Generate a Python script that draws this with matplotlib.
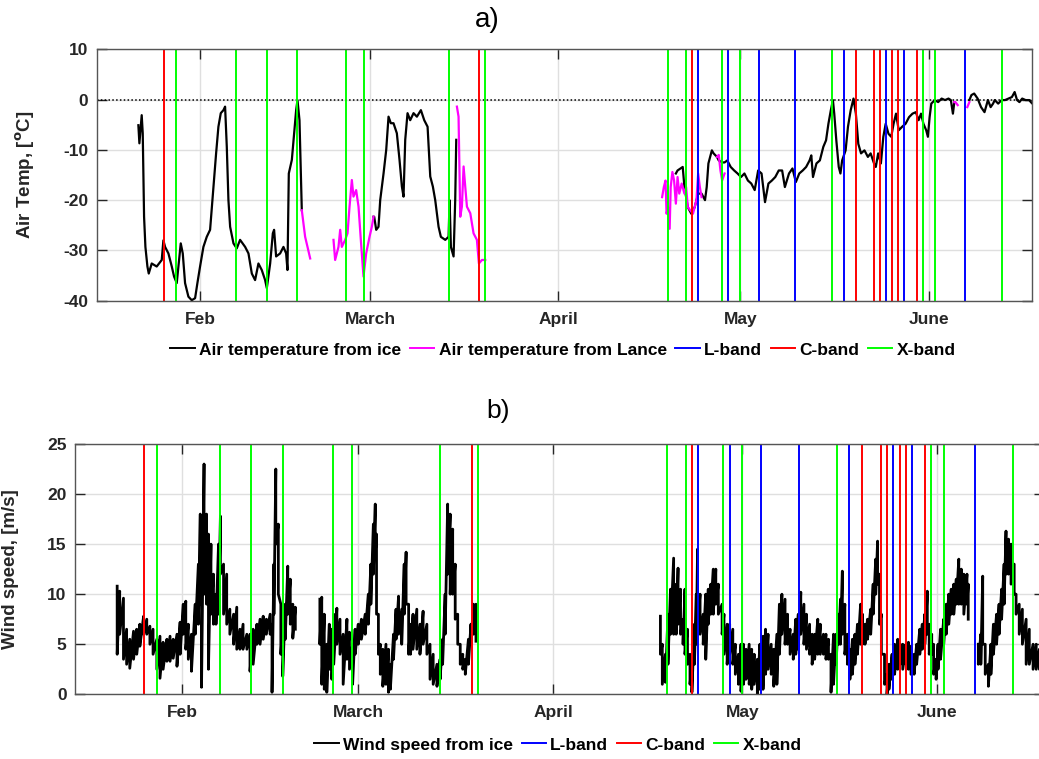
import numpy as np
import matplotlib
matplotlib.use('Agg')
import matplotlib.pyplot as plt

plt.rcParams['font.family'] = ['Liberation Sans', 'DejaVu Sans']
plt.rcParams['axes.unicode_minus'] = False

nan = np.nan

# ---------------- data (x = day of year 2015) ----------------
month_ticks = [32, 60, 91, 121, 152]
month_labels = ['Feb', 'March', 'April', 'May', 'June']

L_band = [114, 119, 124, 130, 138, 145, 148, 158]
C_band = [26, 78, 113, 140, 143, 144, 146, 147, 150]
X_band = [28, 38, 43, 48, 56, 59, 73, 79, 109, 112, 118, 121, 136, 151, 153, 164]

# Air temperature from ice (black); NaN separates gaps
ice_doy = [21.86, 22.03, 22.41, 22.58, 22.80, 23.02, 23.35, 23.57, 24.06, 24.88, 25.71, 25.98,
           26.26, 26.81, 27.36, 27.74, 28.18, 28.45, 28.84, 29.17, 29.55, 30.10, 30.65, 31.20,
           31.58, 32.02, 32.57, 33.12, 33.67, 34.22, 34.66, 35.04, 35.43, 35.87, 36.14, 36.42,
           36.69, 36.97, 37.52, 38.06, 38.61, 39.44, 39.99, 40.54, 41.08, 41.63, 42.18, 42.73,
           43.01, 43.56, 44.00, 44.21, 44.54, 45.20, 45.75, 46.19, 46.41, 46.63, 47.13, 47.51,
           47.84, 48.06, 48.39, 48.77,
           nan,
           60.58, 60.69, 61.02, 61.40, 61.68, 62.23, 62.67, 63.05, 63.43, 63.87, 64.42, 64.86,
           65.25, 65.52, 65.80, 66.18, 66.62, 67.17, 67.72, 68.38, 68.93, 69.48, 69.92, 70.35,
           70.74, 71.29, 71.67, 72.39, 72.94, 73.10, 73.32, 73.76, 74.03, 74.20,
           nan,
           110.36, 110.64, 111.49, 111.77, 112.33, 112.90, 113.46, 114.03, 114.59, 115.16, 115.44,
           115.72, 116.29, 116.57, 117.13, 117.42, 117.98, 118.38, 118.83, 119.39, 119.96, 120.52,
           121.09, 121.65, 122.22, 122.78, 123.34, 123.91, 124.47, 125.04, 125.60, 126.17, 126.73,
           127.30, 127.86, 128.31, 128.99, 129.56, 130.12, 130.68, 131.25, 131.81, 132.38, 132.66,
           132.94, 133.51, 134.07, 134.64, 135.09, 135.48, 135.88, 136.22, 136.44, 136.78, 137.18,
           137.46, 137.74, 138.31, 138.70, 139.15, 139.61, 140.00, 140.40, 140.85, 141.41, 141.98,
           142.43, 142.99, 143.28, 143.67, 144.12, 144.52, 144.91, 145.37, 145.82, 146.21, 146.61,
           147.06, 147.62, 148.19, 148.75, 149.32, 149.88, 150.33, 150.73, 151.12, 151.58, 151.86,
           152.14, 152.42, 152.99, 153.55, 154.12, 154.68, 155.25, 155.64, 155.98, 156.21,
           nan,
           158.69, 159.03, 159.48, 160.05, 160.61, 161.18, 161.74, 162.19, 162.59, 162.87, 163.43,
           164.00, 164.56, 165.13, 165.69, 166.14, 166.54, 166.93, 167.39, 167.95, 168.52, 168.97]
ice_temp = [-5.1, -8.7, -3.1, -6.7, -23.3, -29.3, -33.2, -34.6, -32.6, -33.2, -31.9, -28.0,
            -29.3, -30.6, -33.2, -35.2, -36.5, -33.2, -28.6, -30.6, -36.5, -39.2, -39.9, -39.5,
            -36.5, -33.2, -29.3, -27.3, -25.9, -17.3, -10.7, -5.4, -2.7, -2.1, -1.4, -9.4,
            -20.0, -25.3, -28.6, -29.6, -27.9, -29.3, -30.6, -34.6, -35.9, -32.6, -33.9, -35.9,
            -37.5, -32.6, -26.6, -25.9, -31.2, -30.6, -29.3, -30.6, -33.9, -14.7, -12.0, -6.7,
            -2.1, -0.1, -4.1, -22.0,
            nan,
            -23.3, -23.3, -25.9, -25.3, -20.0, -14.7, -10.0, -3.4, -4.7, -4.7, -6.7, -12.0,
            -17.3, -19.3, -8.0, -2.7, -4.1, -2.7, -3.4, -2.1, -4.1, -5.4, -15.3, -17.3,
            -20.0, -25.3, -27.3, -27.9, -27.3, -20.0, -29.3, -31.2, -20.0, -8.0,
            nan,
            -14.7, -14.1, -13.4, -17.4, -21.4, -22.7, -21.4, -18.7, -18.7, -20.0, -17.4,
            -12.7, -10.1, -10.7, -11.4, -12.1, -12.5, -12.5, -12.1, -13.4, -14.1, -14.7,
            -15.4, -14.7, -16.1, -16.7, -18.0, -14.1, -14.7, -20.4, -16.7, -16.1, -15.4,
            -14.1, -14.1, -17.4, -14.7, -13.7, -16.4, -14.7, -14.1, -13.4, -12.1, -11.1,
            -15.4, -12.7, -12.1, -9.4, -8.1, -4.8, -2.1, -0.1, -2.8, -8.1, -13.4,
            -14.7, -12.1, -10.1, -5.4, -2.1, 0.2, -2.8, -8.8, -10.7, -10.1, -11.4,
            -10.7, -12.7, -13.4, -10.7, -12.7, -7.4, -4.8, -6.8, -7.4, -4.8, -2.8,
            -6.1, -5.4, -4.8, -3.5, -2.8, -2.5, -4.1, -2.8, -4.8, -6.1, -7.4,
            -3.5, -0.8, -0.1, -0.5, 0.2, -0.1, 0.2, -0.1, -2.8, -0.5,
            nan,
            -0.1, 0.9, 1.2, 0.2, -1.5, -2.5, -0.1, -1.5, -0.8, -0.1, -0.8,
            -0.1, -0.1, 0.2, 0.5, 1.5, -0.1, -0.5, 0.2, -0.1, -0.1, -0.7]

# Air temperature from Lance (magenta)
lance_doy = [48.77, 49.32, 49.71, 50.15,
             nan,
             53.99, 54.26, 54.81, 55.09, 55.36, 55.91, 56.30, 56.63, 57.01, 57.28, 57.72, 58.11,
             58.49, 58.93, 59.37, 59.92, 60.30, 60.58,
             nan,
             74.31, 74.58, 74.86, 75.13, 75.41, 75.68, 75.96, 76.51, 77.05, 77.60, 77.93, 78.43, 78.98,
             nan,
             108.10, 108.38, 108.66, 108.83, 109.06, 109.34, 109.51, 109.79, 110.07, 110.36, 110.64,
             110.92, 111.32, 111.77, 112.05, 112.33, 112.73, 113.18, 113.75, 114.03, 114.31, 114.59,
             nan,
             117.13, 117.42, 117.70, 117.98, 118.38,
             nan,
             156.21, 156.38, 156.77,
             nan,
             158.35, 158.69]
lance_temp = [-22.0, -27.3, -29.3, -31.6,
              nan,
              -27.9, -31.9, -29.3, -25.9, -29.3, -27.9, -26.6, -21.3, -16.0, -19.3, -18.0, -21.3,
              -27.9, -35.2, -30.6, -27.3, -25.3, -23.3,
              nan,
              -1.4, -3.4, -23.3, -21.3, -13.3, -17.3, -21.3, -22.6, -26.6, -27.9, -32.6, -31.9, -31.9,
              nan,
              -19.4, -17.4, -16.1, -22.7, -21.4, -25.7, -17.4, -14.4, -16.1, -20.7, -15.4,
              -18.7, -16.7, -18.7, -17.4, -21.4, -22.0, -22.7, -20.0, -14.7, -17.4, -19.4,
              nan,
              -11.4, -11.0, -14.1, -16.1, -14.7,
              nan,
              -0.5, -0.5, -1.1,
              nan,
              -1.5, -0.5]

# Wind speed from ice: read peaks (hi) and troughs (lo) of the jagged trace
wind_doy = [21.7, 22.1, 22.7, 23.2, 23.7, 24.3, 24.8, 25.3, 25.9, 26.4, 26.9, 27.4, 28.0, 28.5,
            29.0, 29.6, 30.1, 30.6, 31.2, 31.7, 32.2, 32.6, 33.0, 33.5, 34.1, 34.6, 34.9, 35.1,
            35.5, 35.9, 36.2, 36.6, 37.0, 37.4, 37.8, 38.1, 38.6, 39.1, 39.6, 40.2, 40.7, 41.2,
            41.7, 42.3, 42.8, 43.3, 43.9, 44.4, 44.9, 45.4, 46.0, 46.3, 46.6, 46.9, 47.3, 47.7,
            48.0, 48.4, 48.8, 49.2, 49.6, 50.0,
            nan,
            53.9, 54.2, 54.6, 55.0, 55.4, 55.8, 56.1, 56.6, 57.1, 57.6, 58.2, 58.6, 59.1, 59.5,
            60.0, 60.5, 61.1, 61.6, 62.0, 62.4, 62.7, 62.9, 63.2, 63.5, 63.9, 64.4, 64.8, 65.1,
            65.6, 66.0, 66.4, 66.9, 67.3, 67.6, 68.0, 68.3, 68.7, 69.3, 69.8, 70.3, 70.9, 71.4,
            71.9, 72.5, 73.0, 73.4, 73.8, 74.2, 74.6, 75.0, 75.4, 75.8, 76.2, 76.6, 77.0, 77.5,
            77.9, 78.3, 78.7,
            nan,
            108.0, 108.3, 108.8, 109.2, 109.6, 110.1, 110.5, 110.8, 111.2, 111.6, 111.9, 112.3,
            112.7, 113.0, 113.4, 113.7, 113.9, 114.3, 114.8, 115.2, 115.6, 116.0, 116.4, 116.8,
            117.2, 117.8, 118.1, 118.6, 119.0, 119.5, 119.9, 120.4, 120.8, 121.2, 121.6, 122.1,
            122.5, 122.9, 123.4, 123.8, 124.3, 124.7, 125.1, 125.6, 126.0, 126.5, 126.9, 127.3,
            127.8, 128.2, 128.6, 129.1, 129.5, 129.9, 130.3, 130.8, 131.2, 131.7, 132.1, 132.5,
            133.0, 133.4, 133.9, 134.3, 134.7, 135.1, 135.5, 135.9, 136.3, 136.6, 136.9, 137.3,
            137.7, 138.1, 138.5, 138.9, 139.3, 139.8, 140.1, 140.5, 140.9, 141.4, 141.8, 142.2,
            142.5, 142.8, 143.1, 143.6, 144.0, 144.3, 144.8, 145.2, 145.7, 146.1, 146.5, 147.0,
            147.4, 147.8, 148.3, 148.7, 149.2, 149.6, 150.0, 150.4, 150.7, 151.1, 151.4, 151.8,
            152.1, 152.5, 153.0, 153.4, 153.8, 154.2, 154.6, 155.0, 155.4, 155.8, 156.2, 156.7,
            156.9,
            nan,
            158.5, 158.9, 159.2, 159.6, 160.1, 160.5, 160.9, 161.4, 161.8, 162.2, 162.6, 162.9,
            163.3, 163.7, 164.2, 164.5, 165.0, 165.5, 166.1, 166.6, 167.2, 167.7, 168.2, 168.8]
wind_hi = [10.8, 10.3, 9.6, 6.5, 5.5, 6.3, 6.5, 7.0, 7.8, 7.5, 6.8, 6.5, 5.5, 5.8,
           5.2, 5.5, 5.8, 5.5, 6.0, 7.2, 9.0, 9.3, 7.0, 6.0, 9.0, 13.0, 18.0, 15.0,
           23.0, 18.0, 16.0, 15.0, 12.0, 10.0, 15.0, 17.8, 13.0, 12.0, 8.5, 8.0, 8.7, 6.5,
           7.0, 6.0, 6.0, 6.5, 7.0, 7.5, 7.8, 7.5, 8.0, 7.0, 13.0, 22.5, 17.0, 9.0,
           7.0, 9.0, 12.8, 11.5, 9.0, 8.7,
           nan,
           9.5, 9.7, 8.0, 5.0, 7.0, 6.5, 8.0, 8.6, 7.5, 6.0, 7.5, 6.2, 5.0, 6.5,
           7.0, 7.5, 8.0, 10.0, 13.0, 17.0, 19.0, 16.0, 8.0, 5.0, 4.5, 5.0, 4.5, 3.0,
           6.0, 8.5, 9.8, 8.5, 13.0, 14.2, 9.0, 7.0, 8.0, 8.5, 7.0, 8.3, 7.0, 5.0,
           4.0, 3.0, 3.5, 5.5, 10.0, 19.0, 18.0, 16.5, 13.0, 8.0, 5.0, 4.0, 3.5, 5.5,
           7.0, 9.0, 9.0,
           nan,
           7.8, 5.0, 4.0, 8.0, 10.5, 13.6, 11.0, 12.6, 10.5, 7.5, 10.5, 6.5,
           4.0, 3.0, 7.0, 10.0, 14.5, 10.0, 8.0, 10.0, 10.5, 11.0, 12.5, 12.5,
           11.0, 9.0, 8.0, 7.0, 7.0, 6.5, 5.0, 4.0, 5.0, 5.0, 4.5, 5.0,
           4.5, 4.0, 3.5, 5.0, 5.8, 6.5, 6.0, 5.0, 4.5, 6.0, 9.0, 10.0,
           9.5, 8.0, 6.5, 6.0, 7.5, 8.0, 10.2, 9.0, 8.0, 7.0, 6.0, 6.0,
           7.5, 7.0, 6.0, 6.0, 5.5, 4.0, 6.0, 6.0, 8.0, 9.5, 12.3, 9.0,
           6.0, 4.5, 5.5, 6.0, 7.0, 9.0, 8.0, 7.0, 7.5, 8.5, 11.0, 13.5,
           15.3, 12.0, 8.0, 4.0, 2.0, 3.0, 4.0, 5.0, 5.5, 5.0, 5.0, 5.0,
           5.2, 4.8, 4.0, 5.0, 6.5, 7.0, 8.0, 10.3, 7.0, 6.0, 5.0, 3.5,
           5.0, 6.5, 7.5, 9.0, 10.0, 10.5, 11.0, 11.5, 13.5, 12.5, 12.0, 12.0,
           11.0,
           nan,
           5.0, 6.0, 11.8, 5.0, 3.0, 5.0, 7.0, 8.0, 9.0, 10.5, 13.0, 16.3,
           15.5, 15.0, 13.0, 10.0, 9.0, 8.5, 7.5, 6.5, 5.0, 5.0, 4.5, 4.0]
wind_lo = [4.0, 6.0, 3.5, 3.0, 2.6, 3.5, 4.0, 4.8, 6.0, 6.0, 5.0, 4.0, 2.5, 1.6,
           2.5, 3.3, 3.3, 3.6, 2.8, 4.0, 6.0, 4.5, 3.5, 2.3, 6.0, 7.0, 9.0, 0.7,
           10.0, 9.0, 2.5, 8.0, 7.0, 7.0, 8.0, 12.0, 8.0, 7.0, 6.0, 5.0, 4.5, 4.5,
           4.5, 4.5, 2.3, 3.0, 5.0, 5.0, 5.5, 6.0, 6.0, 0.2, 8.0, 15.0, 10.0, 4.0,
           1.8, 5.5, 8.0, 7.0, 5.6, 6.5,
           nan,
           5.0, 1.0, 0.5, 0.2, 2.5, 1.5, 3.0, 5.0, 4.0, 1.0, 3.5, 2.5, 1.0, 4.0,
           5.0, 5.5, 6.0, 7.0, 9.0, 12.0, 14.0, 8.0, 4.0, 2.0, 0.8, 1.0, 0.2, 0.5,
           3.5, 5.5, 6.0, 5.0, 8.0, 9.0, 4.0, 4.0, 4.5, 4.5, 4.0, 5.0, 4.0, 1.5,
           1.0, 0.8, 1.5, 3.0, 6.0, 12.0, 10.0, 10.0, 7.5, 5.0, 3.0, 2.5, 2.0, 3.0,
           5.0, 6.0, 5.3,
           nan,
           4.0, 1.0, 1.2, 3.0, 6.0, 6.0, 6.0, 7.0, 6.0, 5.0, 4.0, 3.0,
           1.0, 0.2, 3.0, 5.0, 7.0, 6.0, 5.0, 3.5, 7.0, 8.0, 8.0, 9.0,
           8.0, 6.0, 4.0, 3.0, 4.0, 3.0, 2.0, 1.0, 0.3, 1.0, 1.5, 1.0,
           0.5, 1.0, 0.0, 0.5, 0.5, 2.0, 2.5, 2.0, 0.8, 1.0, 4.0, 6.0,
           5.0, 5.0, 4.0, 3.5, 4.0, 4.5, 6.0, 5.0, 4.5, 4.0, 3.0, 3.5,
           4.0, 4.0, 4.0, 3.5, 3.5, 0.2, 1.0, 3.0, 5.0, 5.0, 6.0, 4.0,
           3.0, 1.5, 2.0, 3.0, 4.0, 5.0, 5.0, 5.0, 5.5, 6.0, 8.0, 10.0,
           11.0, 7.0, 4.0, 1.0, 0.0, 0.5, 1.5, 2.0, 2.5, 3.0, 2.5, 3.0,
           2.5, 2.0, 2.0, 3.0, 4.0, 4.5, 5.0, 6.0, 4.0, 4.0, 2.0, 1.5,
           2.5, 3.5, 5.0, 6.0, 7.0, 8.0, 8.0, 9.0, 9.0, 9.0, 8.0, 9.0,
           7.5,
           nan,
           3.0, 3.0, 5.0, 2.0, 0.8, 2.0, 4.0, 5.0, 6.0, 7.5, 9.0, 12.0,
           12.0, 11.0, 10.0, 8.0, 6.0, 5.0, 3.0, 3.0, 2.5, 2.5, 2.5, 2.5]

# ---------------- figure ----------------
W, H = 1039, 759
fig = plt.figure(figsize=(W / 100, H / 100), dpi=100)

ax1 = fig.add_axes([96.7 / W, 1 - 300.7 / H, (1032 - 96.7) / W, (300.7 - 49.3) / H])
ax2 = fig.add_axes([75 / W, 1 - 694.3 / H, 969.4 / W, (694.3 - 444) / H])

AX_COL = '#262626'
GRID_COL = '#dfdfdf'
FS = 12.5


def style(ax, ylim, yticks):
    ax.set_xlim(15, 169)
    ax.set_ylim(*ylim)
    ax.set_yticks(yticks)
    ax.set_xticks(month_ticks)
    ax.set_xticklabels(month_labels)
    ax.grid(True, color=GRID_COL, linewidth=1.0)
    ax.set_axisbelow(True)
    ax.tick_params(direction='in', top=True, right=True, length=7, width=1.0,
                   colors=AX_COL, labelsize=FS)
    ax.tick_params(axis='x', pad=8)
    ax.tick_params(axis='y', pad=6)
    for lab in ax.get_xticklabels() + ax.get_yticklabels():
        lab.set_fontweight('bold')
    for sp in ax.spines.values():
        sp.set_color('#555555')
        sp.set_linewidth(1.0)


def band_lines(ax):
    hl = hc = hx = None
    for i, x in enumerate(L_band):
        h = ax.axvline(x, color=(0, 0, 1), lw=1.4, label='L-band' if i == 0 else None)
        hl = hl or h
    for i, x in enumerate(C_band):
        h = ax.axvline(x, color=(1, 0, 0), lw=1.4, label='C-band' if i == 0 else None)
        hc = hc or h
    for i, x in enumerate(X_band):
        h = ax.axvline(x, color=(0, 1, 0), lw=1.4, label='X-band' if i == 0 else None)
        hx = hx or h
    return hl, hc, hx


# ---- panel a ----
h_ice, = ax1.plot(ice_doy, ice_temp, color='k', lw=1.6, label='Air temperature from ice')
h_lance, = ax1.plot(lance_doy, lance_temp, color=(1, 0, 1), lw=1.6, label='Air temperature from Lance')
ax1.axhline(0, color='k', lw=1.1, ls=(0, (1, 1.5)))
hl, hc, hx = band_lines(ax1)
style(ax1, (-40, 10), [-40, -30, -20, -10, 0, 10])
ax1.set_ylabel('Air Temp, [$^{\\mathbf{o}}$C]', fontsize=13.5, fontweight='bold', color=AX_COL)
ax1.yaxis.set_label_coords((37 - 96.7) / (1032 - 96.7), 0.5)

fig.legend([h_ice, h_lance, hl, hc, hx],
           ['Air temperature from ice', 'Air temperature from Lance', 'L-band', 'C-band', 'X-band'],
           loc='center', bbox_to_anchor=(563 / W, 1 - 350 / H), ncol=5, frameon=False,
           handlelength=1.4, handletextpad=0.25, columnspacing=0.5,
           prop={'size': FS, 'weight': 'bold'})

# ---- panel b ----
wx = np.repeat(np.array(wind_doy, float), 2)
wy = np.column_stack([np.array(wind_hi, float), np.array(wind_lo, float)]).ravel()
h_wind, = ax2.plot(wx, wy, color='k', lw=2.0, label='Wind speed from ice')
hl2, hc2, hx2 = band_lines(ax2)
style(ax2, (0, 25), [0, 5, 10, 15, 20, 25])
ax2.set_ylabel('Wind speed, [m/s]', fontsize=13.5, fontweight='bold', color=AX_COL)
ax2.yaxis.set_label_coords((19 - 75) / 969.4, 0.5)

fig.legend([h_wind, hl2, hc2, hx2],
           ['Wind speed from ice', 'L-band', 'C-band', 'X-band'],
           loc='center', bbox_to_anchor=(558 / W, 1 - 745 / H), ncol=4, frameon=False,
           handlelength=1.4, handletextpad=0.25, columnspacing=0.5,
           prop={'size': FS, 'weight': 'bold'})
for lg in fig.legends:
    for ln in lg.get_lines():
        ln.set_linewidth(1.4)

fig.text(487 / W, 1 - 20 / H, 'a)', ha='center', va='center', fontsize=20)
fig.text(498 / W, 1 - 411 / H, 'b)', ha='center', va='center', fontsize=19)

fig.savefig('out.png', dpi=100)
